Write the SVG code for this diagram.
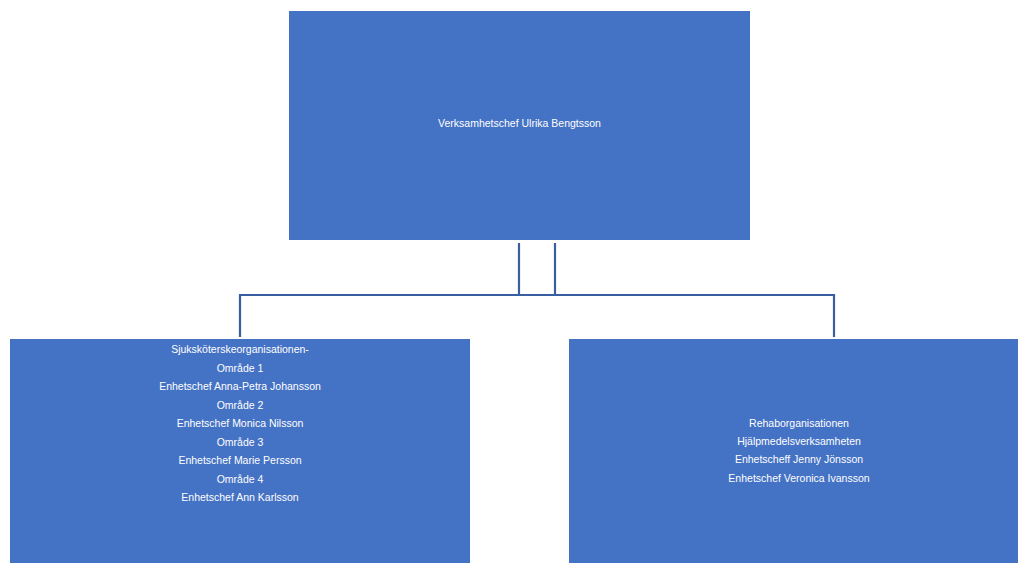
<svg xmlns="http://www.w3.org/2000/svg" width="1018" height="563" viewBox="0 0 1018 563">
<style>
.box{fill:#4472C4;}
.t{font-family:"Liberation Sans","Open Sans",sans-serif;font-size:10.5px;fill:#ffffff;text-anchor:middle;}
.c{fill:none;stroke:#3A5FA0;stroke-width:2.2;}
</style>
<rect width="1018" height="563" fill="#ffffff"/>
<g id="connectors">
<path class="c" d="M519,243 V295 M555,243 V295 M240,337 V295 H834 V337"/>
</g>
<g id="node-top">
<rect class="box" x="289" y="11" width="461" height="229"/>
<text class="t" x="519.5" y="127">Verksamhetschef Ulrika Bengtsson</text>
</g>
<g id="node-left">
<rect class="box" x="10" y="339" width="460" height="224"/>
<text class="t" x="240" y="353">Sjuksköterskeorganisationen-</text>
<text class="t" x="240" y="372">Område 1</text>
<text class="t" x="240" y="390">Enhetschef Anna-Petra Johansson</text>
<text class="t" x="240" y="409">Område 2</text>
<text class="t" x="240" y="427">Enhetschef Monica Nilsson</text>
<text class="t" x="240" y="446">Område 3</text>
<text class="t" x="240" y="464">Enhetschef Marie Persson</text>
<text class="t" x="240" y="483">Område 4</text>
<text class="t" x="240" y="501">Enhetschef Ann Karlsson</text>
</g>
<g id="node-right">
<rect class="box" x="569" y="339" width="449" height="224"/>
<text class="t" x="799" y="427">Rehaborganisationen</text>
<text class="t" x="799" y="445">Hjälpmedelsverksamheten</text>
<text class="t" x="799" y="463">Enhetscheff Jenny Jönsson</text>
<text class="t" x="799" y="482">Enhetschef Veronica Ivansson</text>
</g>
</svg>
